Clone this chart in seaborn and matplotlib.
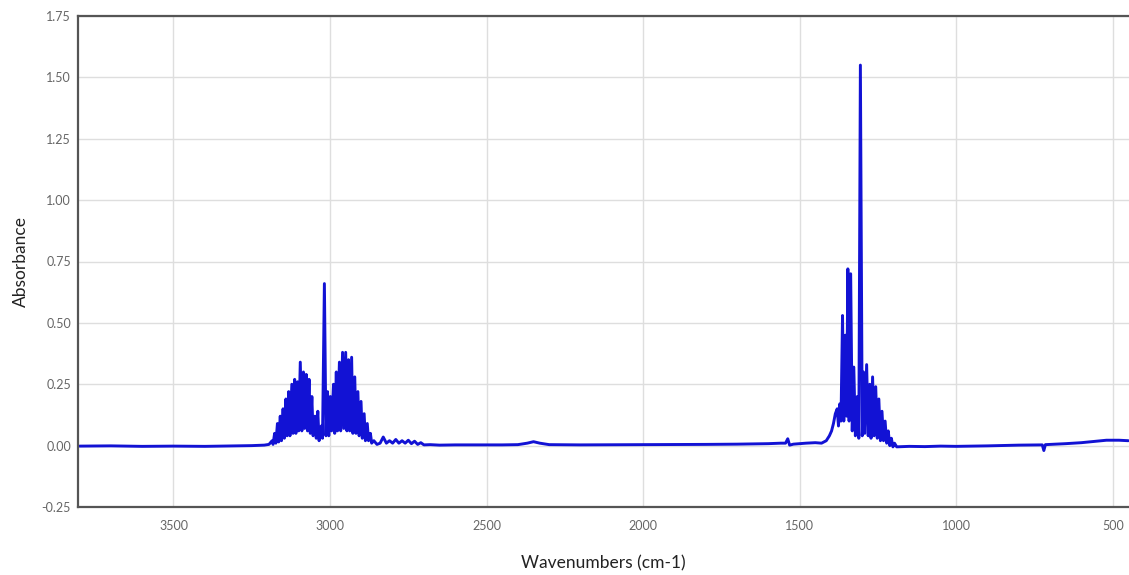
import numpy as np
import matplotlib
matplotlib.use("Agg")
import matplotlib.pyplot as plt
import pandas as pd
import seaborn as sns

# IR spectrum, values (wavenumber cm-1, absorbance)
wavenumber = [3800, 3700, 3600, 3500, 3400, 3300, 3250, 3210, 3195,
              3185, 3182, 3177, 3173, 3168, 3164, 3159, 3155, 3150, 3146,
              3141, 3137, 3132, 3128, 3122, 3118, 3113, 3109, 3104, 3100,
              3095, 3090, 3085, 3081, 3076, 3072, 3067, 3063, 3058, 3054,
              3048, 3044, 3039, 3035, 3028, 3024, 3018, 3013,
              3008, 3004, 2999, 2995, 2989, 2985, 2980, 2976, 2970, 2966,
              2960, 2956, 2950, 2946, 2941, 2937, 2931, 2927, 2921, 2917,
              2911, 2907, 2901, 2897, 2891, 2887, 2881, 2877, 2871, 2867,
              2860, 2850, 2840, 2830, 2820, 2810, 2800, 2790, 2780, 2770,
              2760, 2750, 2740, 2730, 2720, 2710, 2700, 2680, 2650,
              2600, 2450, 2400, 2370, 2350, 2330, 2300, 2200, 2000, 1800,
              1700, 1600, 1560, 1545, 1538, 1532, 1520, 1480, 1450, 1430,
              1415, 1405, 1398, 1392, 1386, 1380, 1376, 1372, 1368,
              1363, 1359, 1354, 1350, 1346, 1342, 1337, 1332, 1327, 1322,
              1316, 1311, 1306, 1300,
              1296, 1292, 1286, 1281, 1276, 1272, 1267, 1262, 1257, 1252,
              1247, 1242, 1237, 1232, 1227, 1222, 1217, 1212, 1207, 1202,
              1197, 1190, 1150, 1100, 1050, 1000, 900, 800, 725, 720, 715,
              650, 600, 550, 520, 480, 450]
absorbance = [-0.002, -0.001, -0.003, -0.002, -0.003, -0.001, 0.0, 0.002, 0.005,
              0.02, 0.005, 0.05, 0.01, 0.09, 0.015, 0.12, 0.02, 0.15, 0.03,
              0.19, 0.04, 0.22, 0.04, 0.25, 0.05, 0.27, 0.05, 0.26, 0.06,
              0.34, 0.06, 0.30, 0.07, 0.29, 0.06, 0.27, 0.05, 0.20, 0.04,
              0.12, 0.03, 0.14, 0.02, 0.08, 0.03, 0.66, 0.04,
              0.22, 0.04, 0.20, 0.06, 0.25, 0.05, 0.30, 0.06, 0.34, 0.06,
              0.38, 0.07, 0.38, 0.06, 0.35, 0.06, 0.36, 0.05, 0.28, 0.05,
              0.22, 0.04, 0.18, 0.03, 0.13, 0.02, 0.09, 0.02, 0.05, 0.01,
              0.02, 0.005, 0.01, 0.035, 0.01, 0.02, 0.01, 0.025, 0.01, 0.02,
              0.01, 0.022, 0.008, 0.018, 0.005, 0.012, 0.003, 0.004, 0.002,
              0.003, 0.003, 0.004, 0.01, 0.016, 0.01, 0.004, 0.003, 0.004, 0.005,
              0.006, 0.008, 0.01, 0.01, 0.028, 0.002, 0.006, 0.01, 0.012, 0.01,
              0.02, 0.04, 0.06, 0.09, 0.13, 0.15, 0.08, 0.17, 0.10,
              0.53, 0.10, 0.45, 0.12, 0.72, 0.10, 0.70, 0.06, 0.32, 0.04,
              0.20, 0.03, 1.55, 0.04,
              0.30, 0.05, 0.33, 0.04, 0.25, 0.03, 0.28, 0.04, 0.24, 0.03,
              0.19, 0.02, 0.14, 0.02, 0.10, 0.01, 0.06, 0.0, 0.03, -0.005,
              0.01, -0.005, -0.003, -0.004, -0.002, -0.003, -0.001, 0.002, 0.003, -0.02, 0.004,
              0.008, 0.012, 0.018, 0.022, 0.022, 0.02]

ytick_vals = [-0.25, 0.0, 0.25, 0.5, 0.75, 1.0, 1.25, 1.5, 1.75]
xtick_vals = [3500, 3000, 2500, 2000, 1500, 1000, 500]

df = pd.DataFrame({"Wavenumbers (cm-1)": wavenumber, "Absorbance": absorbance})

sns.set_style("whitegrid", {"grid.color": "#dedede", "axes.edgecolor": "#555555"})
plt.rcParams["font.family"] = ["Lato", "DejaVu Sans"]

fig = plt.figure(figsize=(11.29, 5.75), dpi=100)
ax = fig.add_axes([78 / 1129, 1 - 507 / 575, 1 - 78 / 1129, (507 - 16) / 575])

sns.lineplot(data=df, x="Wavenumbers (cm-1)", y="Absorbance", ax=ax,
             sort=False, estimator=None, color="#1212d4", linewidth=2.1)

ax.set_xlim(3805, 448)
ax.set_ylim(-0.25, 1.75)
ax.set_xticks(xtick_vals)
ax.set_yticks(ytick_vals)
ax.set_yticklabels([f"{v:.2f}" for v in ytick_vals])
ax.tick_params(axis="both", length=0, labelsize=9, labelcolor="#666666")
ax.tick_params(axis="x", pad=9)
ax.tick_params(axis="y", pad=5)
ax.grid(True, color="#dedede", linewidth=1)

for side in ["left", "bottom", "top"]:
    ax.spines[side].set_color("#555555")
    ax.spines[side].set_linewidth(1.6)
ax.spines["right"].set_visible(False)

ax.set_xlabel("Wavenumbers (cm-1)", fontsize=12.5, color="#222222", labelpad=17)
ax.set_ylabel("Absorbance", fontsize=12.5, color="#222222", labelpad=9)

fig.savefig("out.png", dpi=100)
